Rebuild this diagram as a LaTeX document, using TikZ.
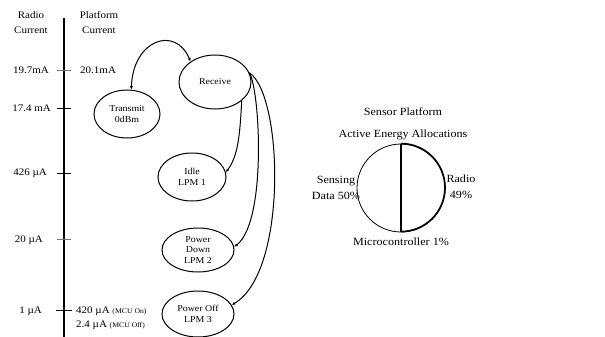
\documentclass[tikz,border=0pt]{standalone}
\usepackage{fontspec}
\setmainfont{Liberation Serif}[FakeStretch=1.1]
\usetikzlibrary{shapes.geometric,arrows.meta}
\begin{document}
\begin{tikzpicture}[x=1pt,y=-1pt,
  state/.style={ellipse,draw,line width=1pt,inner sep=0pt,align=center,font=\fontsize{9}{10.5}\selectfont},
  lbl/.style={font=\fontsize{10}{15}\selectfont,inner sep=0pt},
  plbl/.style={font=\fontsize{11}{16}\selectfont,inner sep=0pt},
  conn/.style={line width=1pt,-{Latex[length=3.5pt,width=3pt]}},
  tickmark/.style={line width=1pt},
  faint/.style={line width=0.8pt,black!55}]
\useasboundingbox[fill=white] (0,0) rectangle (605,337);

% axis
\coordinate (atop) at (64,18);
\coordinate (abot) at (64,337);
\draw[line width=2.4pt] (atop) -- (abot);
\draw[faint] (57,70) -- (71,70);
\draw[tickmark] (57,108) -- (71,108);
\draw[tickmark] (57,173) -- (71,173);
\draw[faint] (57,239) -- (71,239);
\draw[tickmark] (56,310) -- (72,310);

% headers
\node[lbl,align=center] (hr) at (31,23) {Radio\\Current};
\node[lbl,align=center] (hp) at (99,23) {Platform\\Current};

% current labels
\node[lbl,anchor=east] (r1) at (49,70) {19.7mA};
\node[lbl,anchor=west] (p1) at (80,70) {20.1mA};
\node[lbl,anchor=east] (r2) at (51,108) {17.4 mA};
\node[lbl,anchor=east] (r3) at (47,173) {426 µA};
\node[lbl,anchor=east] (r4) at (43,240) {20 µA};
\node[lbl,anchor=east] (r5) at (42,311) {1 µA};
\node[lbl,anchor=west] (p5) at (76,311) {420 µA {\fontsize{7}{8}\selectfont (MCU On)}};
\node[lbl,anchor=west] (p6) at (76,325) {2.4 µA {\fontsize{7}{8}\selectfont (MCU Off)}};

% states
\node[state,minimum width=66,minimum height=48] (tx) at (127,114) {Transmit\\0dBm};
\node[state,minimum width=72,minimum height=54] (rx) at (215,82) {Receive};
\node[state,minimum width=68,minimum height=48] (idle) at (192,177) {Idle\\LPM 1};
\node[state,minimum width=72,minimum height=44] (pd) at (198,250) {Power\\Down\\LPM 2};
\node[state,minimum width=72,minimum height=46] (po) at (198,314) {Power Off\\LPM 3};

% connectors
\draw[line width=1pt,{Latex[length=3.5pt,width=3pt]}-{Latex[length=3.5pt,width=3pt]}]
  (tx.80) .. controls (133,40) and (175,25) .. (rx.140);
\draw[conn] (rx.-35) .. controls (240,130) and (239,155) .. (idle.8);
\draw[conn] (rx.15) .. controls (260,90) and (267,222) .. (pd.5);
\draw[conn] (rx.15) .. controls (283,95) and (288,272) .. (po.15);

% pie
\node[circle,draw,line width=0.8pt,minimum size=88,inner sep=0pt] (pie) at (401,188) {};
\draw[line width=1.7pt] (pie.north) arc[start angle=-90,end angle=90,radius=44];
\draw[line width=2.3pt] (pie.north) -- (pie.south);
\node[plbl] (sp) at (403,112) {Sensor Platform};
\node[plbl] (aea) at (403,135) {Active Energy Allocations};
\node[plbl,align=center] (sens) at (336,188) {Sensing\\Data 50\%};
\node[plbl,align=center] (rad) at (461,187) {Radio\\49\%};
\node[plbl] (mc) at (401,242) {Microcontroller 1\%};
\end{tikzpicture}
\end{document}
